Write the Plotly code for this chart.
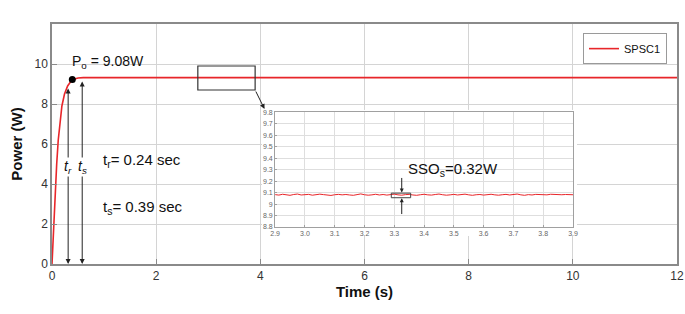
import plotly.graph_objects as go

# ---- data ----
rise_t = [0, 0.03, 0.06, 0.09, 0.12, 0.15, 0.19, 0.24, 0.30, 0.36, 0.42, 0.50, 0.60, 12]
rise_p = [0, 1.8, 3.5, 5.0, 6.2, 7.1, 7.9, 8.5, 8.9, 9.12, 9.24, 9.30, 9.32, 9.32]

po_point_t = [0.39]
po_point_p = [9.22]

inset_t0 = 2.9
inset_dt = 0.0125
inset_p = [
    9.082, 9.078, 9.085, 9.080, 9.076, 9.083, 9.087, 9.079, 9.081, 9.084,
    9.077, 9.080, 9.086, 9.082, 9.078, 9.075, 9.081, 9.084, 9.080, 9.083,
    9.079, 9.076, 9.082, 9.088, 9.081, 9.077, 9.080, 9.085, 9.079, 9.083,
    9.078, 9.081, 9.086, 9.080, 9.077, 9.082, 9.084, 9.079, 9.076, 9.081,
    9.085, 9.080, 9.078, 9.083, 9.087, 9.081, 9.077, 9.080, 9.084, 9.079,
    9.082, 9.086, 9.080, 9.076, 9.081, 9.083, 9.078, 9.082, 9.085, 9.080,
    9.077, 9.081, 9.084, 9.079, 9.083, 9.087, 9.080, 9.076, 9.082, 9.079,
    9.084, 9.081, 9.077, 9.080, 9.085, 9.082, 9.078, 9.081, 9.083, 9.079, 9.081,
]
inset_t = [round(inset_t0 + i * inset_dt, 4) for i in range(len(inset_p))]

main_xticks = [0, 2, 4, 6, 8, 10, 12]
main_yticks = [0, 2, 4, 6, 8, 10]
inset_xticks = [2.9, 3.0, 3.1, 3.2, 3.3, 3.4, 3.5, 3.6, 3.7, 3.8, 3.9]
inset_xlabels = ["2.9", "3.0", "3.1", "3.2", "3.3", "3.4", "3.5", "3.6", "3.7", "3.8", "3.9"]
inset_yticks = [8.8, 8.9, 9.0, 9.1, 9.2, 9.3, 9.4, 9.5, 9.6, 9.7, 9.8]
inset_ylabels = ["8.8", "8.9", "9", "9.1", "9.2", "9.3", "9.4", "9.5", "9.6", "9.7", "9.8"]

FONT = "Liberation Sans, Arial, Helvetica, sans-serif"
RED = "#e8262a"
GRID = "#d4d4d4"
AX = "#8a8a8a"

fig = go.Figure()

fig.add_trace(go.Scatter(x=rise_t, y=rise_p, mode="lines", name="SPSC1",
                         line=dict(color=RED, width=1.6), xaxis="x", yaxis="y"))
fig.add_trace(go.Scatter(x=po_point_t, y=po_point_p, mode="markers", showlegend=False,
                         marker=dict(color="black", size=7), xaxis="x", yaxis="y"))
# white backing subplot for the inset
fig.add_trace(go.Scatter(x=[0.5], y=[0.5], mode="markers", showlegend=False,
                         marker=dict(opacity=0), hoverinfo="skip", xaxis="x2", yaxis="y2"))
# inset
fig.add_trace(go.Scatter(x=inset_t, y=inset_p, mode="lines", showlegend=False,
                         line=dict(color=RED, width=1), xaxis="x3", yaxis="y3"))

fig.update_layout(
    width=685, height=314,
    margin=dict(l=52, r=8, t=24, b=50),
    paper_bgcolor="white", plot_bgcolor="white",
    font=dict(family=FONT, color="#222"),
    showlegend=True,
    legend=dict(x=0.984, y=0.962, xanchor="right", yanchor="top",
                bgcolor="white", bordercolor="#9a9a9a", borderwidth=1,
                font=dict(size=11, color="#111", family=FONT),
                tracegroupgap=0, itemwidth=30),
    xaxis=dict(domain=[0, 1], range=[0, 12], tickvals=main_xticks,
               showgrid=True, gridcolor=GRID, gridwidth=1, zeroline=False,
               showline=True, linecolor=AX, linewidth=1.5, mirror=True,
               ticks="inside", ticklen=5, tickcolor=AX, automargin=False,
               tickfont=dict(size=12, color="#333"),
               title=dict(text="<b>Time (s)</b>", font=dict(size=15, color="#111"), standoff=4)),
    yaxis=dict(domain=[0, 1], range=[0, 12], tickvals=main_yticks,
               showgrid=True, gridcolor=GRID, gridwidth=1, zeroline=False,
               showline=True, linecolor=AX, linewidth=1.5, mirror=True,
               ticks="inside", ticklen=5, tickcolor=AX, automargin=False,
               tickfont=dict(size=12, color="#333"),
               title=dict(text="<b>Power (W)</b>", font=dict(size=15, color="#111"), standoff=8)),
    xaxis2=dict(domain=[0.336, 0.84], range=[0, 1], visible=False, anchor="y2", fixedrange=True),
    yaxis2=dict(domain=[0.117, 0.642], range=[0, 1], visible=False, anchor="x2", fixedrange=True),
    xaxis3=dict(domain=[0.357, 0.8336], range=[2.9, 3.9], anchor="y3",
                tickvals=inset_xticks, ticktext=inset_xlabels,
                showgrid=True, gridcolor="#dedede", gridwidth=1, zeroline=False,
                showline=True, linecolor="#a0a0a0", linewidth=1, mirror=True,
                ticks="inside", ticklen=2, tickcolor="#a0a0a0", automargin=False,
                tickfont=dict(size=7, color="#666")),
    yaxis3=dict(domain=[0.154, 0.633], range=[8.8, 9.8], anchor="x3",
                tickvals=inset_yticks, ticktext=inset_ylabels,
                showgrid=True, gridcolor="#dedede", gridwidth=1, zeroline=False,
                showline=True, linecolor="#a0a0a0", linewidth=1, mirror=True,
                ticks="inside", ticklen=2, tickcolor="#a0a0a0", automargin=False,
                tickfont=dict(size=7, color="#666")),
)

shapes = [
    # white backing of inset (drawn in x2y2 subplot layer)
    dict(type="rect", xref="x2", yref="y2", x0=0, x1=1, y0=0, y1=1,
         fillcolor="white", line=dict(width=0), layer="below"),
    # zoom rectangle on main plot
    dict(type="rect", xref="x", yref="y", x0=2.8, x1=3.9, y0=8.7, y1=9.9,
         line=dict(color="#333", width=1.2), layer="above"),
    # SSO box in inset
    dict(type="rect", xref="x3", yref="y3", x0=3.29, x1=3.355, y0=9.055, y1=9.095,
         line=dict(color="#444", width=1), layer="above"),
]
fig.update_layout(shapes=shapes)

def arrow(x, y, ax, ay, xref="x", yref="y", side="end", size=1.0):
    return dict(x=x, y=y, ax=ax, ay=ay, xref=xref, yref=yref, axref=xref, ayref=yref,
                text="", showarrow=True, arrowhead=2, arrowsize=size, arrowwidth=1,
                arrowcolor="#222", arrowside=side)

annotations = [
    # tr and ts double arrows
    arrow(0.31, 0.0, 0.31, 8.85, side="end+start"),
    arrow(0.58, 0.0, 0.58, 9.2, side="end+start"),
    # zoom arrow
    arrow(4.08, 7.75, 3.9, 8.7),
    # SSO arrows
    arrow(3.325, 9.1, 3.325, 9.24, xref="x3", yref="y3", size=0.8),
    arrow(3.325, 9.05, 3.325, 8.9, xref="x3", yref="y3", size=0.8),
    dict(x=0.34, y=10.1, xref="x", yref="y", xanchor="left", yanchor="middle",
         text="P<sub>o</sub> = 9.08W", showarrow=False, font=dict(size=14, color="#111")),
    dict(x=0.94, y=5.2, xref="x", yref="y", xanchor="left", yanchor="middle",
         text="t<sub>r</sub>= 0.24 sec", showarrow=False, font=dict(size=15, color="#111")),
    dict(x=0.94, y=2.85, xref="x", yref="y", xanchor="left", yanchor="middle",
         text="t<sub>s</sub>= 0.39 sec", showarrow=False, font=dict(size=15, color="#111")),
    dict(x=0.31, y=4.85, xref="x", yref="y", xanchor="center", yanchor="middle",
         text="<i>t<sub>r</sub></i>", showarrow=False, bgcolor="white", borderpad=0,
         font=dict(size=14, color="#111")),
    dict(x=0.58, y=4.85, xref="x", yref="y", xanchor="center", yanchor="middle",
         text="<i>t<sub>s</sub></i>", showarrow=False, bgcolor="white", borderpad=0,
         font=dict(size=14, color="#111")),
    dict(x=3.34, y=9.3, xref="x3", yref="y3", xanchor="left", yanchor="middle",
         text="SSO<sub>s</sub>=0.32W", showarrow=False, font=dict(size=15, color="#111")),
]
fig.update_layout(annotations=annotations)

fig.write_html(
    "out.html",
    config={"displayModeBar": False},
    post_script="document.documentElement.style.overflow='hidden';"
                "document.body.style.margin='0';document.body.style.overflow='hidden';",
)
